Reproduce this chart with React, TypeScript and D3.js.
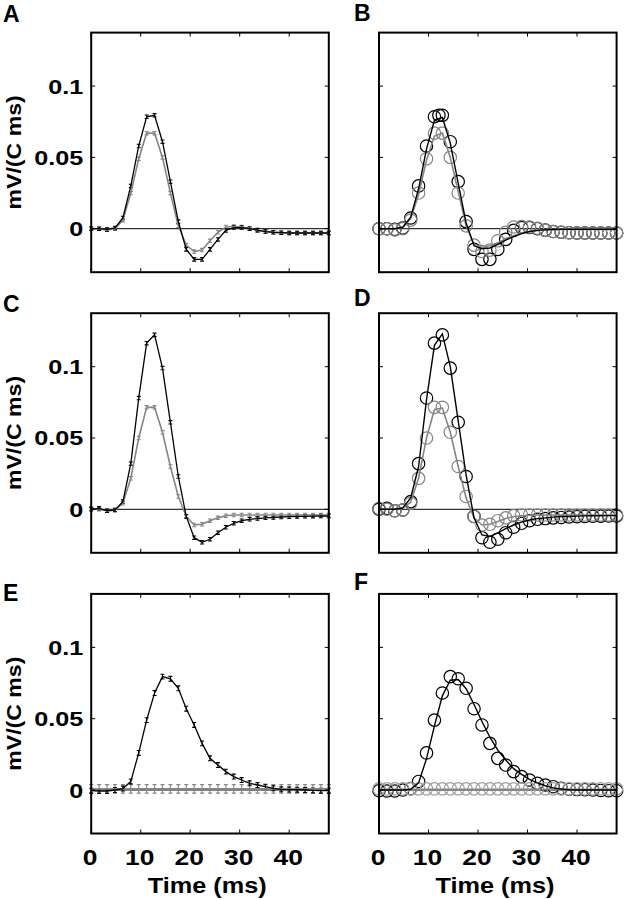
import React from 'react';
import * as d3 from 'd3';

// ---------- data ----------
const time = [0, 1.6, 3.2, 4.8, 6.4, 8, 9.6, 11.2, 12.8, 14.4, 16, 17.6, 19.2, 20.8, 22.4, 24, 25.6, 27.2, 28.8, 30.4, 32, 33.6, 35.2, 36.8, 38.4, 40, 41.6, 43.2, 44.8, 46.4, 48];

// Panel A / B data (black & gray)
const aBlack = [0, 0, -0.0005, 0.0005, 0.0075, 0.030, 0.058, 0.0785, 0.0795, 0.061, 0.033, 0.005, -0.0145, -0.0215, -0.0215, -0.0145, -0.0075, -0.0012, 0.0008, 0.0008, 0, -0.001, -0.002, -0.0025, -0.0028, -0.003, -0.003, -0.003, -0.003, -0.003, -0.003];
const aGray = [0, 0, -0.0008, 0, 0.006, 0.025, 0.049, 0.067, 0.067, 0.050, 0.025, 0.002, -0.0115, -0.016, -0.015, -0.0085, -0.0025, 0.0012, 0.0015, 0.0012, 0.0003, -0.0012, -0.002, -0.0025, -0.0028, -0.003, -0.003, -0.003, -0.003, -0.003, -0.003];
const bExtraTime = [12.1];
const bExtraBlack = [0.0795];
const bFitBlack = [0, 0, 0, 0.001, 0.008, 0.028, 0.056, 0.076, 0.078, 0.060, 0.032, 0.004, -0.012, -0.014, -0.0135, -0.011, -0.008, -0.0055, -0.0035, -0.002, -0.0012, -0.0008, -0.0006, -0.0005, -0.0005, -0.0005, -0.0005, -0.0005, -0.0005, -0.0005, -0.0005];
const bFitGray = [0, 0, 0, 0.001, 0.007, 0.024, 0.048, 0.065, 0.067, 0.050, 0.026, 0.002, -0.011, -0.013, -0.012, -0.010, -0.007, -0.005, -0.003, -0.002, -0.0012, -0.0008, -0.0006, -0.0005, -0.0005, -0.0005, -0.0005, -0.0005, -0.0005, -0.0005, -0.0005];

// Panel C / D data
const cBlack = [0, 0.0007, -0.001, -0.0005, 0.0054, 0.032, 0.078, 0.1165, 0.1223, 0.099, 0.061, 0.023, -0.005, -0.0199, -0.0231, -0.021, -0.0164, -0.0126, -0.0098, -0.008, -0.007, -0.0065, -0.006, -0.0057, -0.0054, -0.0052, -0.005, -0.0049, -0.0048, -0.0047, -0.0047];
const cGray = [0.0007, 0, -0.001, -0.0005, 0.0042, 0.0217, 0.050, 0.0715, 0.0715, 0.054, 0.030, 0.009, -0.005, -0.011, -0.0105, -0.008, -0.006, -0.0045, -0.004, -0.004, -0.004, -0.004, -0.004, -0.004, -0.004, -0.004, -0.004, -0.004, -0.004, -0.004, -0.004];
const dFitBlack = [0, 0, 0, 0.001, 0.008, 0.030, 0.077, 0.115, 0.123, 0.100, 0.062, 0.024, -0.006, -0.018, -0.019, -0.0165, -0.0135, -0.011, -0.009, -0.0075, -0.0065, -0.006, -0.0055, -0.005, -0.005, -0.0048, -0.0046, -0.0045, -0.0045, -0.0044, -0.0044];
const dFitGray = [0, 0, 0, 0.001, 0.005, 0.022, 0.050, 0.070, 0.071, 0.054, 0.030, 0.008, -0.006, -0.011, -0.0105, -0.0085, -0.0065, -0.005, -0.0045, -0.0042, -0.004, -0.004, -0.004, -0.004, -0.004, -0.004, -0.004, -0.004, -0.004, -0.004, -0.004];

// Panel E / F data
const eBlack = [-0.0005, -0.0007, -0.0007, 0, 0.001, 0.006, 0.026, 0.049, 0.068, 0.0795, 0.078, 0.0713, 0.057, 0.0456, 0.0327, 0.0222, 0.0175, 0.0129, 0.0094, 0.007, 0.0047, 0.0035, 0.0023, 0.0012, 0.0005, 0.0003, 0.0002, 0, -0.0003, -0.0005, -0.0005];
const eGray = [0.0008, 0.0008, 0.0008, 0.0008, 0.0008, 0.0008, 0.0008, 0.0008, 0.0008, 0.0008, 0.0008, 0.0008, 0.0008, 0.0008, 0.0008, 0.0008, 0.0008, 0.0008, 0.0008, 0.0008, 0.0008, 0.0008, 0.0008, 0.0008, 0.0008, 0.0008, 0.0008, 0.0008, 0.0008, 0.0008, 0.0008];
const fFitBlack = [0, 0, 0, 0, 0.0005, 0.005, 0.022, 0.045, 0.066, 0.077, 0.0775, 0.071, 0.060, 0.048, 0.037, 0.028, 0.021, 0.015, 0.011, 0.0075, 0.005, 0.003, 0.0015, 0.0007, 0.0002, 0, 0, 0, 0, 0, 0];
const fFitGray = [0.0005, 0.0005, 0.0005, 0.0005, 0.0005, 0.0005, 0.0005, 0.0005, 0.0005, 0.0005, 0.0005, 0.0005, 0.0005, 0.0005, 0.0005, 0.0005, 0.0005, 0.0005, 0.0005, 0.0005, 0.0005, 0.0005, 0.0005, 0.0005, 0.0005, 0.0005, 0.0005, 0.0005, 0.0005, 0.0005, 0.0005];

// error bar half-widths
const errA = 0.0012;
const errC = 0.0012;
const errEBlack = 0.0017;
const errEGray = 0.003;

const yTicks = [0, 0.05, 0.1];
const yTickLabels = ['0', '0.05', '0.1'];
const xTicks = [0, 10, 20, 30, 40];
const xTickLabels = ['0', '10', '20', '30', '40'];
const xDomain = [0, 48];
const yDomain = [-0.0305, 0.1375];

const BLACK = '#000';
const GRAY = '#858585';
const FONT = '"Liberation Sans", Arial, Helvetica, sans-serif';

// ---------- layout ----------
const W = 624, H = 900;
const colX = [91.2, 379];
const rowY = [32.6, 313.2, 593.9];
const PW = 237.6, PH = 239.6;

function Panel({ left, top, label, lx, ly, showY, showX, lines, errs, circles }: any) {
  const x = d3.scaleLinear().domain(xDomain).range([left, left + PW]);
  const y = d3.scaleLinear().domain(yDomain).range([top + PH, top]);
  const mk = (t: number[], v: number[]) =>
    d3.line<number>().x((_, i) => x(t[i])).y((d) => y(d))(v) || '';
  const clipId = `clip-${label}`;
  return (
    <g>
      <defs>
        <clipPath id={clipId}>
          <rect x={left - 8} y={top} width={PW + 16} height={PH} />
        </clipPath>
      </defs>
      <text x={lx} y={ly} fontFamily={FONT} fontWeight="bold" fontSize={23}>{label}</text>
      <line x1={left} x2={left + PW} y1={y(0)} y2={y(0)} stroke="#000" strokeWidth={1} />
      <g clipPath={`url(#${clipId})`}>
        {(circles || []).map((c: any, k: number) => (
          <g key={'c' + k}>
            {c.v.map((d: number, i: number) => (
              <circle key={i} cx={x(c.t[i])} cy={y(d)} r={6.2} fill="none" stroke={c.color} strokeWidth={1.2} />
            ))}
          </g>
        ))}
        {(errs || []).map((e: any, k: number) => (
          <g key={'e' + k} stroke={e.color} strokeWidth={1.1}>
            {e.v.map((d: number, i: number) => {
              const cx = x(e.t[i]);
              const y1 = y(d - e.err), y2 = y(d + e.err);
              return (
                <g key={i}>
                  <line x1={cx} x2={cx} y1={y1} y2={y2} />
                  <line x1={cx - 2} x2={cx + 2} y1={y1} y2={y1} />
                  <line x1={cx - 2} x2={cx + 2} y1={y2} y2={y2} />
                </g>
              );
            })}
          </g>
        ))}
        {(lines || []).map((l: any, k: number) => (
          <path key={'l' + k} d={mk(l.t, l.v)} fill="none" stroke={l.color} strokeWidth={l.w || 1.4} />
        ))}
      </g>
      {yTicks.map((v) => (
        <g key={'yt' + v} stroke="#000" strokeWidth={1}>
          <line x1={left} x2={left + 4} y1={y(v)} y2={y(v)} />
          <line x1={left + PW - 4} x2={left + PW} y1={y(v)} y2={y(v)} />
        </g>
      ))}
      {xTicks.map((v) => (
        <g key={'xt' + v} stroke="#000" strokeWidth={1}>
          <line x1={x(v)} x2={x(v)} y1={top + PH} y2={top + PH - 4} />
          <line x1={x(v)} x2={x(v)} y1={top} y2={top + 4} />
        </g>
      ))}
      <rect x={left} y={top} width={PW} height={PH} fill="none" stroke="#000" strokeWidth={2} />
      {showY && yTicks.map((v, i) => (
        <text key={'yl' + v} transform={`translate(${left - 8},${y(v) + 7.5}) scale(1.2,1)`}
          textAnchor="end" fontFamily={FONT} fontWeight="bold" fontSize={21}>{yTickLabels[i]}</text>
      ))}
      {showY && (
        <text transform={`translate(21,${top + PH / 2}) rotate(-90) scale(1.1,1)`} textAnchor="middle"
          fontFamily={FONT} fontWeight="bold" fontSize={21}>mV/(C ms)</text>
      )}
      {showX && xTicks.map((v, i) => (
        <text key={'xl' + v} transform={`translate(${x(v) - 1},${top + PH + 31}) scale(1.2,1)`}
          textAnchor="middle" fontFamily={FONT} fontWeight="bold" fontSize={22}>{xTickLabels[i]}</text>
      ))}
      {showX && (
        <text transform={`translate(${left + 116},${top + PH + 59}) scale(1.15,1)`} textAnchor="middle"
          fontFamily={FONT} fontWeight="bold" fontSize={22}>Time (ms)</text>
      )}
    </g>
  );
}

export default function App() {
  return (
    <svg width={W} height={H} viewBox={`0 0 ${W} ${H}`}
      style={{ position: 'absolute', left: 0, top: 0, background: '#fff' }}>
      <rect width={W} height={H} fill="#fff" />
      <Panel left={colX[0]} top={rowY[0]} label="A" lx={3} ly={22} showY
        errs={[{ t: time, v: aGray, err: errA, color: GRAY }, { t: time, v: aBlack, err: errA, color: BLACK }]}
        lines={[{ t: time, v: aGray, color: GRAY, w: 1.6 }, { t: time, v: aBlack, color: BLACK, w: 1.3 }]} />
      <Panel left={colX[1]} top={rowY[0]} label="B" lx={354} ly={21}
        circles={[{ t: time, v: aBlack, color: BLACK }, { t: bExtraTime, v: bExtraBlack, color: BLACK }, { t: time, v: aGray, color: GRAY }]}
        lines={[{ t: time, v: bFitGray, color: GRAY, w: 1.6 }, { t: time, v: bFitBlack, color: BLACK, w: 1.4 }]} />
      <Panel left={colX[0]} top={rowY[1]} label="C" lx={3} ly={312} showY
        errs={[{ t: time, v: cGray, err: errC, color: GRAY }, { t: time, v: cBlack, err: errC, color: BLACK }]}
        lines={[{ t: time, v: cGray, color: GRAY, w: 1.6 }, { t: time, v: cBlack, color: BLACK, w: 1.3 }]} />
      <Panel left={colX[1]} top={rowY[1]} label="D" lx={354} ly={306}
        circles={[{ t: time, v: cBlack, color: BLACK }, { t: time, v: cGray, color: GRAY }]}
        lines={[{ t: time, v: dFitGray, color: GRAY, w: 1.6 }, { t: time, v: dFitBlack, color: BLACK, w: 1.4 }]} />
      <Panel left={colX[0]} top={rowY[2]} label="E" lx={3} ly={601} showY showX
        errs={[{ t: time, v: eGray, err: errEGray, color: GRAY }, { t: time, v: eBlack, err: errEBlack, color: BLACK }]}
        lines={[{ t: time, v: eGray, color: GRAY, w: 1.6 }, { t: time, v: eBlack, color: BLACK, w: 1.3 }]} />
      <Panel left={colX[1]} top={rowY[2]} label="F" lx={354} ly={590} showX
        circles={[{ t: time, v: eBlack, color: BLACK }, { t: time, v: eGray, color: '#a0a0a0' }]}
        lines={[{ t: time, v: fFitGray, color: GRAY, w: 1.6 }, { t: time, v: fFitBlack, color: BLACK, w: 1.4 }]} />
    </svg>
  );
}
